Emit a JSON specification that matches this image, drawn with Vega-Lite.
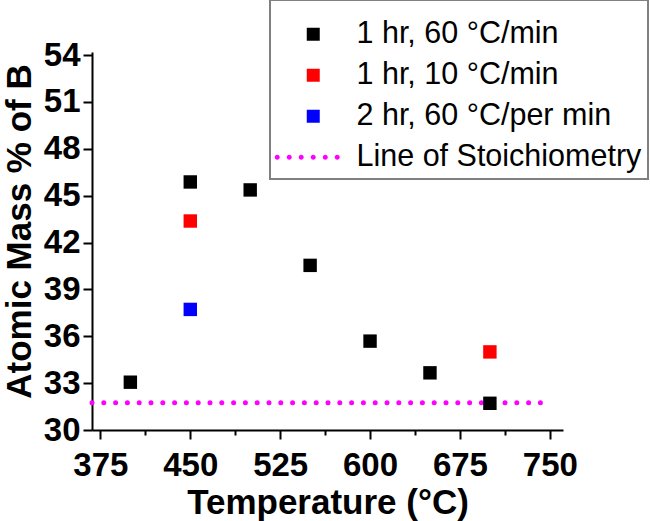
{
  "$schema": "https://vega.github.io/schema/vega-lite/v6.json",
  "autosize": {"type": "none"},
  "padding": {"left": 92, "top": 52, "right": 87, "bottom": 91},
  "width": 471,
  "height": 378,
  "config": {
    "view": {"stroke": null},
    "font": "Liberation Sans",
    "legend": {
      "strokeColor": "#808080",
      "strokeWidth": 2,
      "fillColor": "#ffffff",
      "padding": 6,
      "labelFont": "Liberation Sans",
      "labelFontSize": 30.5,
      "labelColor": "#000000",
      "labelLimit": 400,
      "symbolSize": 169,
      "symbolOffset": 22,
      "labelOffset": 28,
      "rowPadding": 10,
      "titleFontSize": 10,
      "titlePadding": 3
    }
  },
  "layer": [
    {
      "data": {"values": [
        {"series": "Line of Stoichiometry", "t0": 368, "t1": 742.8, "b": 31.75}
      ]},
      "mark": {"type": "rule", "color": "#ff00ff", "strokeWidth": 5, "strokeCap": "round", "strokeDash": [0, 11.8]},
      "encoding": {
        "x": {"field": "t0", "type": "quantitative"},
        "x2": {"field": "t1"},
        "y": {"field": "b", "type": "quantitative"}
      }
    },
    {
      "data": {"values": [
        {"series": "1 hr, 60 °C/min", "temp": 400, "boron": 33.06},
        {"series": "1 hr, 60 °C/min", "temp": 450, "boron": 45.88},
        {"series": "1 hr, 60 °C/min", "temp": 500, "boron": 45.37},
        {"series": "1 hr, 60 °C/min", "temp": 550, "boron": 40.54},
        {"series": "1 hr, 60 °C/min", "temp": 600, "boron": 35.69},
        {"series": "1 hr, 60 °C/min", "temp": 650, "boron": 33.66},
        {"series": "1 hr, 60 °C/min", "temp": 700, "boron": 31.71},
        {"series": "1 hr, 10 °C/min", "temp": 450, "boron": 43.38},
        {"series": "1 hr, 10 °C/min", "temp": 700, "boron": 35.0},
        {"series": "2 hr, 60 °C/per min", "temp": 450, "boron": 37.72}
      ]},
      "mark": {"type": "point", "filled": true, "opacity": 1, "size": 180},
      "encoding": {
        "x": {
          "field": "temp", "type": "quantitative",
          "scale": {"domain": [368, 761], "nice": false, "zero": false},
          "axis": {
            "title": "Temperature (°C)",
            "values": [375, 412.5, 450, 487.5, 525, 562.5, 600, 637.5, 675, 712.5, 750],
            "labelExpr": "datum.value % 75 === 0 ? format(datum.value, 'd') : ''",
            "grid": false,
            "domainColor": "#000000", "domainWidth": 2,
            "tickColor": "#000000", "tickWidth": 2, "tickSize": 9,
            "tickDash": {"condition": {"test": "datum.value % 75 !== 0", "value": [5, 20]}, "value": []},
            "labelFont": "Liberation Sans", "labelFontWeight": "bold", "labelFontSize": 33, "labelColor": "#000000",
            "labelPadding": 10, "labelFlush": false, "labelOverlap": false,
            "titleFont": "Liberation Sans", "titleFontWeight": "bold", "titleFontSize": 35, "titleColor": "#000000",
            "titleBaseline": "alphabetic", "titleX": 235.5, "titleY": 83
          }
        },
        "y": {
          "field": "boron", "type": "quantitative",
          "scale": {"domain": [30, 54.2], "nice": false, "zero": false},
          "axis": {
            "title": "Atomic Mass % of B",
            "values": [30, 30.75, 31.5, 32.25, 33, 33.75, 34.5, 35.25, 36, 36.75, 37.5, 38.25, 39, 39.75, 40.5, 41.25, 42, 42.75, 43.5, 44.25, 45, 45.75, 46.5, 47.25, 48, 48.75, 49.5, 50.25, 51, 51.75, 52.5, 53.25, 54],
            "labelExpr": "datum.value % 3 === 0 ? format(datum.value, 'd') : ''",
            "grid": false,
            "domainColor": "#000000", "domainWidth": 2,
            "tickColor": "#000000", "tickWidth": 2, "tickSize": 9,
            "tickDash": {"condition": {"test": "datum.value % 3 !== 0", "value": [5, 20]}, "value": []},
            "labelFont": "Liberation Sans", "labelFontWeight": "bold", "labelFontSize": 33, "labelColor": "#000000",
            "labelPadding": 3, "labelFlush": false, "labelOverlap": false,
            "titleFont": "Liberation Sans", "titleFontWeight": "bold", "titleFontSize": 35, "titleColor": "#000000",
            "titleBaseline": "alphabetic", "titleAngle": -90, "titleX": -62, "titleY": 179
          }
        },
        "color": {
          "field": "series", "type": "nominal",
          "scale": {
            "domain": ["1 hr, 60 °C/min", "1 hr, 10 °C/min", "2 hr, 60 °C/per min", "Line of Stoichiometry"],
            "range": ["#000000", "#ff0000", "#0000ff", "#ff00ff"]
          },
          "legend": {"title": " ", "orient": "none", "legendX": 178, "legendY": -52}
        },
        "shape": {
          "field": "series", "type": "nominal",
          "scale": {
            "domain": ["1 hr, 60 °C/min", "1 hr, 10 °C/min", "2 hr, 60 °C/per min", "Line of Stoichiometry"],
            "range": ["square", "square", "square", "M-5.925,0a0.385,0.385 0 1,0 0.77,0a0.385,0.385 0 1,0 -0.77,0ZM-4.075,0a0.385,0.385 0 1,0 0.77,0a0.385,0.385 0 1,0 -0.77,0ZM-2.235,0a0.385,0.385 0 1,0 0.77,0a0.385,0.385 0 1,0 -0.77,0ZM-0.385,0a0.385,0.385 0 1,0 0.77,0a0.385,0.385 0 1,0 -0.77,0ZM1.465,0a0.385,0.385 0 1,0 0.77,0a0.385,0.385 0 1,0 -0.77,0ZM3.305,0a0.385,0.385 0 1,0 0.77,0a0.385,0.385 0 1,0 -0.77,0Z"]
          },
          "legend": {"title": " ", "orient": "none", "legendX": 178, "legendY": -52}
        }
      }
    }
  ]
}
